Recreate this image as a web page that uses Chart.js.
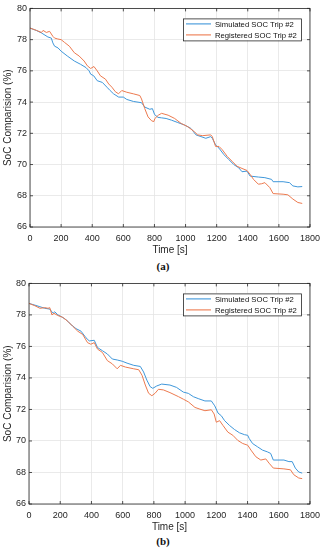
<!DOCTYPE html>
<html><head><meta charset="utf-8">
<script src="https://cdn.jsdelivr.net/npm/chart.js@4.4.1/dist/chart.umd.min.js"></script>
<style>
html,body{margin:0;padding:0;background:#fff;width:326px;height:550px;overflow:hidden;}
.wrap{position:absolute;left:0;width:326px;}
.cap{position:absolute;left:0;width:326px;text-align:center;font-family:"Liberation Serif","DejaVu Serif",serif;font-weight:bold;font-size:11px;line-height:13px;color:#111;}
</style></head><body>
<div class="wrap" style="top:0;height:258px"><canvas id="c1"></canvas></div>
<div class="cap" style="top:260px">(a)</div>
<div class="wrap" style="top:275px;height:260px"><canvas id="c2"></canvas></div>
<div class="cap" style="top:535px">(b)</div>
<script>
// ---- data ----
const xTicks = [0,200,400,600,800,1000,1200,1400,1600,1800];
const yTicks = [66,68,70,72,74,76,78,80];
const seriesLabels = ['Simulated SOC Trip #2','Registered SOC Trip #2'];
const xTitle = 'Time [s]';
const yTitle = 'SoC Comparision (%)';

// (a)
const simA_t = [0,40,75,115,137,147,158,180,200,240,285,325,360,380,390,410,432,465,495,515,537,570,600,622,665,717,738,770,787,801,823,846,875,910,950,994,1035,1067,1099,1130,1162,1172,1193,1215,1247,1278,1310,1342,1363,1395,1415,1468,1510,1553,1563,1627,1668,1690,1722,1750];
const simA_v = [78.74,78.59,78.42,78.17,78.1,77.79,77.58,77.47,77.26,76.95,76.63,76.42,76.21,76.0,75.79,75.68,75.37,75.26,74.95,74.74,74.53,74.32,74.32,74.17,74.04,73.96,73.68,73.54,73.58,73.2,73.02,72.99,72.95,72.84,72.69,72.53,72.31,71.9,71.79,71.68,71.79,71.68,71.26,71.05,70.63,70.32,70.0,69.79,69.54,69.58,69.26,69.2,69.16,69.05,68.9,68.9,68.84,68.63,68.57,68.59];
const regA_t = [0,42,74,84,105,126,147,158,179,200,221,253,285,316,348,369,390,411,432,453,485,506,527,548,569,590,622,664,706,717,738,759,782,796,803,825,846,888,930,972,1015,1057,1078,1110,1162,1172,1193,1215,1236,1268,1299,1331,1363,1395,1415,1437,1468,1489,1510,1542,1563,1627,1658,1690,1722,1750];
const regA_v = [78.74,78.59,78.46,78.59,78.46,78.53,78.21,78.1,78.04,78.0,77.83,77.58,77.16,76.95,76.63,76.32,76.15,76.28,76.0,75.68,75.47,75.16,74.95,74.67,74.53,74.74,74.63,74.53,74.42,74.2,73.58,73.05,72.8,72.75,72.95,73.16,73.28,73.16,72.95,72.63,72.42,72.1,71.9,71.85,71.9,71.79,71.16,71.16,70.95,70.52,70.21,69.89,69.75,69.62,69.37,69.05,68.74,68.77,68.84,68.52,68.14,68.1,68.06,67.79,67.57,67.51];

// (b)
const simB_t = [0,38,70,101,133,154,165,185,206,238,270,301,333,365,386,418,439,470,502,534,565,597,628,671,713,734,755,776,793,818,850,903,945,989,1021,1053,1084,1127,1168,1190,1211,1232,1253,1285,1316,1348,1380,1401,1411,1432,1464,1496,1527,1548,1565,1633,1665,1686,1706,1728,1750];
const simB_v = [78.73,78.62,78.52,78.42,78.37,78.1,78.2,78.0,77.9,77.69,77.38,77.13,76.97,76.55,76.35,76.39,75.93,75.73,75.52,75.2,75.14,75.06,74.94,74.8,74.73,74.38,73.86,73.45,73.34,73.49,73.61,73.55,73.4,73.1,73.02,72.81,72.69,72.54,72.54,72.23,71.77,71.6,71.29,70.98,70.73,70.52,70.4,70.36,70.15,69.84,69.63,69.42,69.31,69.21,68.79,68.79,68.69,68.69,68.28,68.03,67.96];
const regB_t = [0,38,70,101,122,133,147,160,185,217,249,280,312,344,375,396,418,439,470,502,534,565,586,618,671,703,724,745,766,787,808,829,861,903,958,989,1021,1063,1095,1127,1168,1186,1200,1221,1243,1274,1306,1337,1369,1401,1422,1453,1485,1517,1538,1565,1633,1675,1696,1728,1750];
const regB_v = [78.73,78.58,78.42,78.46,78.42,78.46,78.0,78.1,77.96,77.84,77.59,77.28,76.97,76.76,76.24,76.14,76.24,75.83,75.62,75.1,74.89,74.58,74.8,74.69,74.58,74.52,74.17,73.55,73.03,72.87,73.03,73.28,73.24,73.07,72.81,72.65,72.48,72.13,72.02,71.92,71.98,71.71,71.19,71.29,70.98,70.56,70.36,70.04,69.84,69.73,69.42,69.0,68.79,68.86,68.59,68.28,68.23,68.17,67.86,67.65,67.61];

// ---- styling / drawing ----
const BLUE = '#3f97da';
const ORANGE = '#ec7a4f';
const FONT = '"Liberation Sans", Arial, Helvetica, sans-serif';
const AX = '#262626';

function pts(t, v) { return t.map((x, i) => ({ x: x, y: v[i] })); }

const boxPlugin = {
  id: 'matlabBox',
  afterDraw(chart) {
    const { ctx, chartArea: a, scales: { x, y } } = chart;
    ctx.save();
    ctx.strokeStyle = AX;
    ctx.lineWidth = 0.8;
    ctx.beginPath();
    x.ticks.forEach(t => {
      const px = x.getPixelForValue(t.value);
      ctx.moveTo(px, a.bottom); ctx.lineTo(px, a.bottom - 3);
      ctx.moveTo(px, a.top); ctx.lineTo(px, a.top + 3);
    });
    y.ticks.forEach(t => {
      const py = y.getPixelForValue(t.value);
      ctx.moveTo(a.left, py); ctx.lineTo(a.left + 3, py);
      ctx.moveTo(a.right, py); ctx.lineTo(a.right - 3, py);
    });
    ctx.stroke();
    ctx.strokeRect(a.left, a.top, a.right - a.left, a.bottom - a.top);

    // legend
    const lw = 118, lh = 22;
    const lx = a.right - 9 - lw, ly = a.top + 10;
    ctx.fillStyle = '#fff';
    ctx.fillRect(lx, ly, lw, lh);
    ctx.strokeStyle = AX;
    ctx.lineWidth = 0.8;
    ctx.strokeRect(lx + 0.5, ly + 0.5, lw, lh);
    ctx.font = '7.7px ' + FONT;
    ctx.textBaseline = 'middle';
    ctx.textAlign = 'left';
    chart.data.datasets.forEach((ds, i) => {
      const cy = ly + 5.5 + i * 11;
      ctx.strokeStyle = ds.borderColor;
      ctx.lineWidth = 1.1;
      ctx.beginPath();
      ctx.moveTo(lx + 3, cy); ctx.lineTo(lx + 28, cy);
      ctx.stroke();
      ctx.fillStyle = '#111';
      ctx.fillText(ds.label, lx + 32, cy + 0.5);
    });
    ctx.restore();
  }
};

function makeChart(id, sT, sV, rT, rV, padTop, padRight, yW) {
  return new Chart(document.getElementById(id), {
    type: 'line',
    data: {
      datasets: [
        { label: seriesLabels[0], data: pts(sT, sV), borderColor: BLUE, borderWidth: 1, pointRadius: 0, fill: false, tension: 0, order: 1 },
        { label: seriesLabels[1], data: pts(rT, rV), borderColor: ORANGE, borderWidth: 1, pointRadius: 0, fill: false, tension: 0, order: 0 }
      ]
    },
    options: {
      responsive: true,
      maintainAspectRatio: false,
      animation: false,
      events: [],
      layout: { padding: { top: padTop, right: padRight, left: 0, bottom: 0 } },
      plugins: { legend: { display: false }, tooltip: { enabled: false }, title: { display: false } },
      scales: {
        x: {
          type: 'linear', min: 0, max: 1800,
          afterBuildTicks: s => { s.ticks = xTicks.map(v => ({ value: v })); },
          afterFit: s => { s.height = 31; },
          grid: { color: '#e4e4e4', lineWidth: 0.8, drawTicks: false },
          border: { display: false },
          ticks: { font: { family: FONT, size: 9 }, color: AX, padding: 6, maxRotation: 0, autoSkip: false, callback: v => String(v) },
          title: { display: true, text: xTitle, font: { family: FONT, size: 10 }, color: AX, padding: { top: 0, bottom: 2 } }
        },
        y: {
          type: 'linear', min: 66, max: 80,
          afterBuildTicks: s => { s.ticks = yTicks.map(v => ({ value: v })); },
          afterFit: s => { s.width = yW; },
          grid: { color: '#e4e4e4', lineWidth: 0.8, drawTicks: false },
          border: { display: false },
          ticks: { font: { family: FONT, size: 9 }, color: AX, padding: 3, autoSkip: false, callback: v => String(v) },
          title: { display: true, text: yTitle, font: { family: FONT, size: 10 }, color: AX, padding: { top: 2, bottom: 0 } }
        }
      }
    },
    plugins: [boxPlugin]
  });
}

makeChart('c1', simA_t, simA_v, regA_t, regA_v, 5, 12, 30);
makeChart('c2', simB_t, simB_v, regB_t, regB_v, 4.5, 13, 29);
</script>
</body></html>
